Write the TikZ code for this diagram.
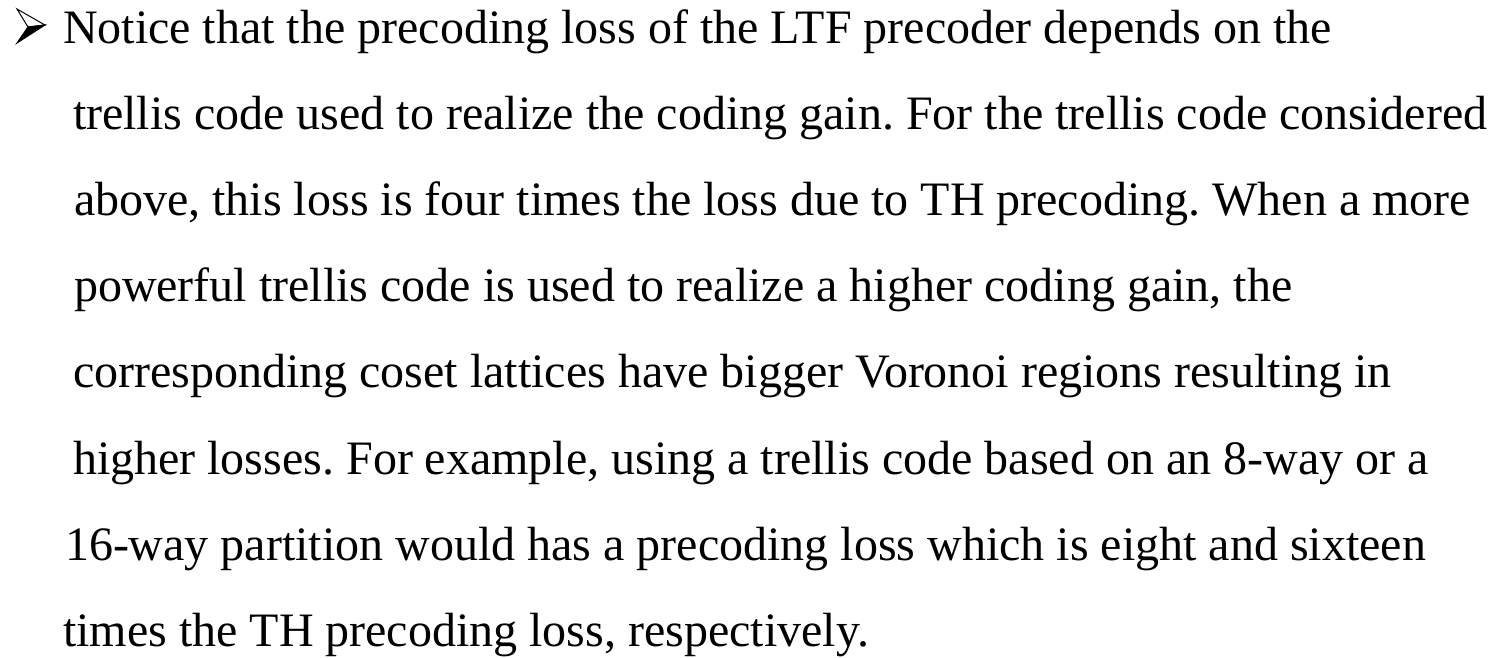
\documentclass[tikz,border=0pt]{standalone}
\usepackage{fontspec}
\setmainfont{Liberation Serif}
\frenchspacing
\begin{document}
\begin{tikzpicture}[x=1pt,y=-1pt,
  txt/.style={anchor=base west,inner sep=0pt,outer sep=0pt,font=\fontsize{48}{58}\selectfont}]
\useasboundingbox (0,0) rectangle (1493,657);
% bullet: 3D arrowhead, white upper facet, black lower facet
\coordinate (bTL) at (17,9);
\coordinate (bTip) at (45,25);
\coordinate (bBL) at (17,43);
\coordinate (bIn) at (28,27);
\filldraw[fill=white,draw=black,line width=1pt,line join=miter] (bTL) -- (bTip) -- (bIn) -- cycle;
\filldraw[fill=black,draw=black,line width=1pt,line join=miter] (bIn) -- (bTip) -- (bBL) -- cycle;
\node[txt] (l1) at (63,43)  {Notice that the precoding loss of the LTF precoder depends on the};
\node[txt] (l2) at (73,129) {trellis code used to realize the coding gain. For the trellis code considered};
\node[txt] (l3) at (74,215) {above, this loss is four times the loss due to TH precoding. When a more};
\node[txt] (l4) at (74,301) {powerful trellis code is used to realize a higher coding gain, the};
\node[txt] (l5) at (73,387) {corresponding coset lattices have bigger Voronoi regions resulting in};
\node[txt] (l6) at (73,474) {higher losses. For example, using a trellis code based on an 8-way or a};
\node[txt] (l7) at (65,560) {16-way partition would has a precoding loss which is eight and sixteen};
\node[txt] (l8) at (63,646) {times the TH precoding loss, respectively.};
\end{tikzpicture}
\end{document}
